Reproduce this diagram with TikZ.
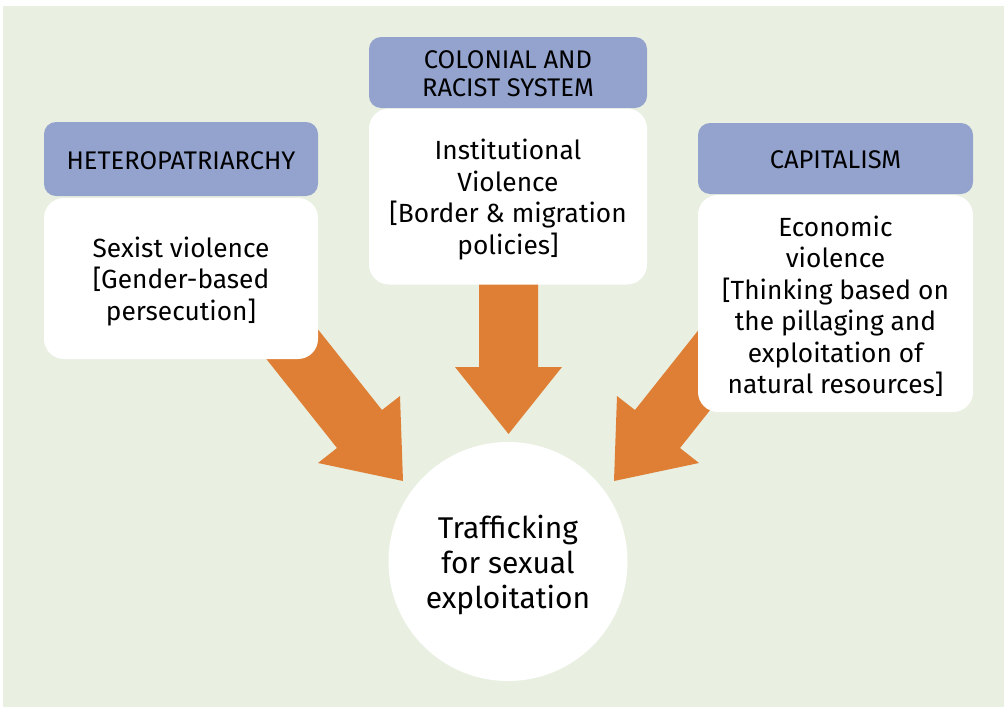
\documentclass[tikz,border=0pt]{standalone}
\usepackage{fontspec}
\setmainfont{Fira Sans}
\definecolor{bggreen}{HTML}{E9F0E1}
\definecolor{hdrblue}{HTML}{93A3CD}
\definecolor{arrorange}{HTML}{DE7F35}
\tikzset{
  hdr/.style={fill=hdrblue, rounded corners=12pt, inner sep=0pt},
  hdrtxt/.style={align=center, inner sep=0pt, font=\fontsize{25.5}{28}\selectfont},
  body/.style={fill=white, rounded corners=20pt, inner sep=0pt},
  bodytxt/.style={align=center, inner sep=0pt, font=\fontsize{26.3}{31.5}\selectfont},
  bigarrow/.style={fill=arrorange, draw=none},
}
\begin{document}
\begin{tikzpicture}[x=1pt,y=-1pt]
\useasboundingbox (0,0) rectangle (1007,707);
\fill[white] (0,0) rectangle (1007,707);
\fill[bggreen] (3,6) rectangle (1004,707);
% arrows (drawn first, boxes cover shaft starts)
\fill[bigarrow] (260,351) -- (337,448) -- (318,463) -- (403,481) -- (400,396) -- (382,410) -- (305,313) -- cycle;
\fill[bigarrow] (757,351) -- (680,448) -- (699,463) -- (614,481) -- (617,396) -- (635,410) -- (712,313) -- cycle;
\fill[bigarrow] (479,275) -- (479,367) -- (455,367) -- (508.5,434) -- (562,367) -- (538,367) -- (538,275) -- cycle;
% left
\node[hdr, minimum width=274pt, minimum height=74pt] (h1) at (181,159) {};
\node[hdrtxt] (h1t) at ([yshift=-1.5pt]h1.center) {HETEROPATRIARCHY};
\node[body, minimum width=274pt, minimum height=161pt] (b1) at (181,278.5) {};
\node[bodytxt] (b1t) at ([yshift=-3pt]b1.center) {Sexist violence\\{[}Gender-based\\persecution]};
% centre
\node[hdr, minimum width=278pt, minimum height=71pt] (h2) at (508,72.5) {};
\node[hdrtxt] (h2t) at ([yshift=-1pt]h2.center) {COLONIAL AND\\RACIST SYSTEM};
\node[body, minimum width=278pt, minimum height=176pt] (b2) at (508,196.5) {};
\node[bodytxt] (b2t) at ([yshift=-3pt]b2.center) {Institutional\\Violence\\{[}Border \& migration\\policies]};
% right
\node[hdr, minimum width=275pt, minimum height=71pt] (h3) at (835.5,158.5) {};
\node[hdrtxt] (h3t) at ([yshift=-1pt]h3.center) {CAPITALISM};
\node[body, minimum width=275pt, minimum height=217pt] (b3) at (835.5,303.5) {};
\node[bodytxt] (b3t) at ([yshift=-3pt]b3.center) {Economic\\violence\\{[}Thinking based on\\the pillaging and\\exploitation of\\natural resources]};
% circle
\node[circle, fill=white, minimum size=239pt, inner sep=0pt] (c) at (508,561.5) {};
\node[align=center, inner sep=0pt, font=\fontsize{30}{35}\selectfont] (ct) at ([yshift=-3pt]c.center) {Trafficking\\for sexual\\exploitation};
\end{tikzpicture}
\end{document}
